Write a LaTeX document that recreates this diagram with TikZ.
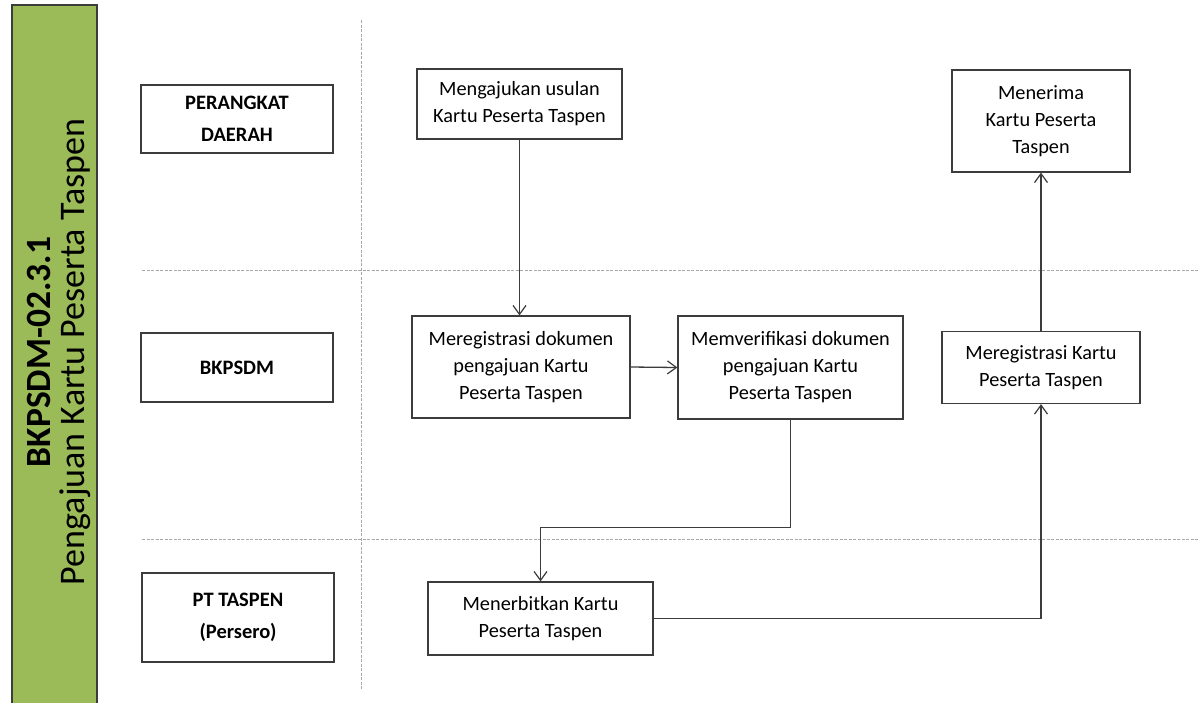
\documentclass[tikz,border=0pt]{standalone}
\usepackage{fontspec}
\setmainfont{Carlito}
\usetikzlibrary{arrows.meta}
\definecolor{bargreen}{HTML}{9BBB59}
\definecolor{linegray}{HTML}{3C3C3C}
\definecolor{dashgray}{HTML}{A8A8A8}
\tikzset{
  box/.style={draw=linegray, line width=1.2pt, fill=white, align=center, inner sep=0pt,
    font=\fontsize{20.3}{27}\selectfont},
  lanebox/.style={draw=linegray, line width=1.2pt, fill=white, align=center, inner sep=0pt,
    minimum width=192pt, font=\bfseries\fontsize{20.5}{32}\selectfont},
  flow/.style={draw=linegray, line width=1.3pt, -{Straight Barb[length=9pt,width=13pt,line width=1.2pt]}},
  lane/.style={draw=dashgray, line width=1pt, dash pattern=on 3pt off 1.5pt}
}
\begin{document}
\begin{tikzpicture}[x=1pt,y=-1pt]
\useasboundingbox (0,0) rectangle (1201,702);
% title bar
\path[fill=bargreen, draw=linegray, line width=1.2pt] (12,5) rectangle (97,708);
\node (t1) [rotate=90, anchor=base, font=\bfseries\fontsize{35.5}{40}\selectfont] at (50,352) {BKPSDM-02.3.1};
\node (t2) [rotate=90, anchor=base, font=\fontsize{36}{40}\selectfont] at (84,352) {Pengajuan Kartu Peserta Taspen};
% lanes
\coordinate (v1) at (361,20);
\coordinate (v2) at (361,690);
\coordinate (h1a) at (142,270);
\coordinate (h1b) at (1198,270);
\coordinate (h2a) at (142,539);
\coordinate (h2b) at (1198,539);
\draw[lane] (v1) -- (v2);
\draw[lane] (h1a) -- (h1b);
\draw[lane] (h2a) -- (h2b);
% lane labels
\node (l1) [lanebox, minimum height=68pt] at (237,119) {PERANGKAT\\DAERAH};
\node (l2) [lanebox, minimum height=69pt] at (237,367.5) {BKPSDM};
\node (l3) [lanebox, minimum height=89pt] at (238,617.5) {PT TASPEN\\(Persero)};
% process boxes
\node (a) [box, minimum width=205pt, minimum height=70pt] at (519.5,104) {Mengajukan usulan\\Kartu Peserta Taspen};
\node (b) [box, minimum width=178pt, minimum height=102pt] at (1041,121) {Menerima\\Kartu Peserta\\Taspen};
\node (c) [box, minimum width=218pt, minimum height=102pt] at (521,367) {Meregistrasi dokumen\\pengajuan Kartu\\Peserta Taspen};
\node (d) [box, minimum width=225pt, minimum height=103pt] at (790.5,367.5) {Memverifikasi dokumen\\pengajuan Kartu\\Peserta Taspen};
\node (e) [box, minimum width=198pt, minimum height=72pt] at (1041,367.5) {Meregistrasi Kartu\\Peserta Taspen};
\node (f) [box, minimum width=225pt, minimum height=73pt] at (540.5,618.5) {Menerbitkan Kartu\\Peserta Taspen};
% connectors
\draw[flow] (a.south) -- (a.south |- c.north);
\draw[flow] (c.east) -- (d.west);
\draw[flow] (d.south) -- ++(0,108) -| (f.north);
\draw[flow] (f.east) -| (e.south);
\draw[flow] (e.north) -- (b.south);
\end{tikzpicture}
\end{document}
